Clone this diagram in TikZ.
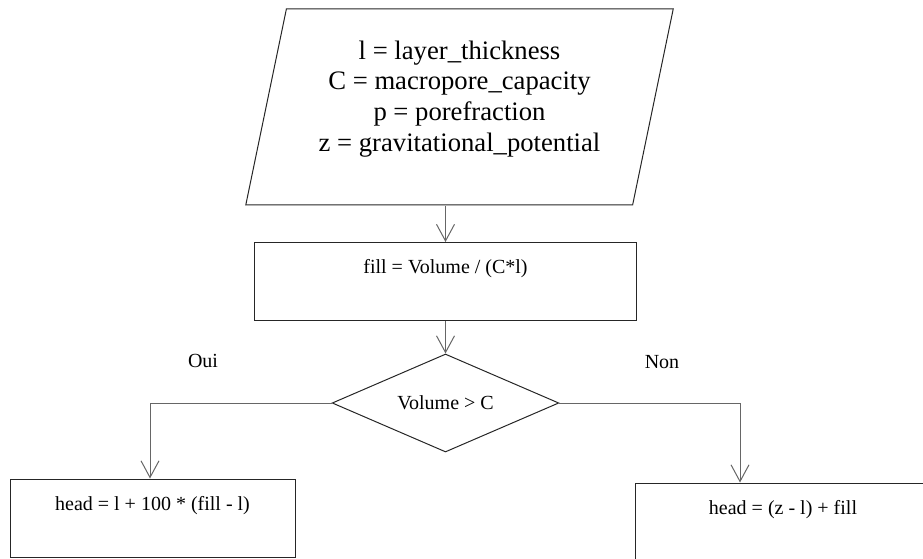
\documentclass[tikz,border=0pt]{standalone}
\usepackage{fontspec}
\setmainfont{Liberation Serif}
\usetikzlibrary{arrows.meta, shapes.geometric}

\begin{document}
\begin{tikzpicture}[
    x=0.75pt, y=-0.75pt,
    nd/.style={draw=black!85, line width=0.75pt, inner sep=0pt, font=\fontsize{15}{18}\selectfont},
    input/.style={nd, trapezium, trapezium left angle=76, trapezium right angle=104, trapezium stretches=true,
        minimum width=321pt, minimum height=147pt, align=center, font=\fontsize{20}{23}\selectfont, text depth=16.5pt},
    proc/.style={nd, rectangle, text height=23.5pt, text depth=35pt},
    decision/.style={nd, diamond, aspect=2.3, minimum width=170pt, minimum height=73.5pt},
    arr/.style={-{Straight Barb[length=12.5pt, width=13.5pt]}, line width=0.75pt, black!60},
    lbl/.style={font=\fontsize{15}{18}\selectfont},
]
\useasboundingbox (0,0) rectangle (923,559);

% Input parameters
\node[input] (params) at (459.5,107) {l = layer\_thickness\\C = macropore\_capacity\\p = porefraction\\z = gravitational\_potential};

% Fill ratio
\node[proc, minimum width=286pt] (fill) at (445.5,281.5) {fill = Volume / (C*l)};

% Test on the volume
\node[decision] (cond) at (445.5,403) {Volume > C};
\node[lbl] (oui) at (203,361) {Oui};
\node[lbl] (non) at (662,362) {Non};

% Branches
\node[proc, minimum width=213.75pt] (yes) at (152.5,518) {head = l + 100 * (fill - l)};
\node[proc, minimum width=222pt] (no) at (783,522) {head = (z - l) + fill};

% === ARROWS ===
\draw[arr] (fill.north |- params.south) -- (fill.north);
\draw[arr] (fill.south) -- (cond.north);
\draw[arr] (cond.west) -| (150,0 |- yes.north);
\draw[arr] (cond.east) -| (740,0 |- no.north);

\end{tikzpicture}
\end{document}
